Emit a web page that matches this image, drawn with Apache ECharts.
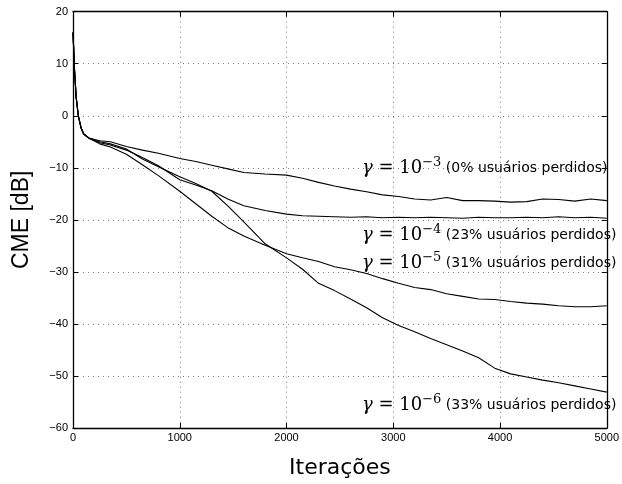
<!DOCTYPE html>
<html>
<head>
<meta charset="utf-8">
<script src="https://cdn.jsdelivr.net/npm/echarts@6/dist/echarts.min.js"></script>
<style>
  html, body { margin: 0; padding: 0; background: #fff; }
  #chart { width: 622px; height: 484px; }
</style>
</head>
<body>
<div id="chart"></div>
<script>
// iterações (eixo x) compartilhadas pelas 4 curvas
var iters = [0, 15, 30, 50, 75, 100, 150, 250, 350, 500, 650, 800, 1000, 1150, 1300, 1450, 1600, 1800, 2000,
  2150, 2300, 2450, 2600, 2750, 2900, 3050, 3200, 3350, 3500, 3650, 3800, 3950, 4100, 4250, 4400, 4550, 4700, 4850, 5000];

// CME em dB
var cmeG3 = [16, 8.5, 3.5, 0, -2.3, -3.5, -4.3, -4.8, -5.0, -5.9, -6.6, -7.2, -8.2, -8.8, -9.5, -10.2, -10.9, -11.2, -11.4,
  -12.0, -12.8, -13.5, -14.1, -14.6, -15.2, -15.5, -16.0, -16.2, -15.7, -16.3, -16.3, -16.4, -16.6, -16.5, -16.0, -16.1, -16.4, -16.0, -16.3];
var cmeG4 = [16, 8.5, 3.5, 0, -2.3, -3.5, -4.3, -5.2, -5.6, -6.6, -8.0, -9.6, -12.3, -13.3, -14.4, -16.0, -17.3, -18.2, -18.9,
  -19.2, -19.3, -19.4, -19.5, -19.4, -19.6, -19.5, -19.6, -19.5, -19.6, -19.7, -19.5, -19.6, -19.6, -19.5, -19.6, -19.4, -19.6, -19.5, -19.7];
var cmeG5 = [16, 8.5, 3.5, 0, -2.3, -3.5, -4.3, -5.4, -6.0, -7.4, -9.4, -11.5, -14.5, -16.9, -19.3, -21.5, -23.1, -24.9, -26.5,
  -27.3, -28.0, -29.0, -29.6, -30.3, -31.3, -32.2, -33.0, -33.4, -34.2, -34.7, -35.2, -35.3, -35.7, -36.0, -36.2, -36.5, -36.7, -36.7, -36.5];
var cmeG6 = [16, 8.5, 3.5, 0, -2.3, -3.5, -4.3, -5.0, -5.4, -6.4, -8.3, -9.8, -11.7, -13.0, -14.5, -17.3, -20.4, -24.6, -27.3,
  -29.5, -32.2, -33.6, -35.2, -36.9, -38.8, -40.3, -41.5, -42.8, -44.0, -45.2, -46.5, -48.5, -49.6, -50.2, -50.8, -51.3, -51.9, -52.5, -53.1];

var expoentes = ['−3', '−4', '−5', '−6'];
var perdidos = ['(0% usuários perdidos)', '(23% usuários perdidos)', '(31% usuários perdidos)', '(33% usuários perdidos)'];

function pares(ys) {
  return iters.map(function (x, i) { return [x, ys[i]]; });
}

var chart = echarts.init(document.getElementById('chart'));

var tickFont = { fontFamily: 'Liberation Sans', fontSize: 11, color: '#000' };
var gridLine = { show: true, lineStyle: { color: '#777', type: [1, 4], width: 1 } };

var labelPos = [[362, 168], [362, 235], [362, 263], [362, 405]];
var labels = labelPos.map(function (p, i) {
  return {
    type: 'text',
    x: p[0],
    y: p[1],
    z: 100,
    style: {
      text: '{gi|γ}{g| = 10}{s|' + expoentes[i] + '}{t| ' + perdidos[i] + '}',
      verticalAlign: 'middle',
      rich: {
        gi: { fontFamily: 'DejaVu Serif', fontStyle: 'italic', fontSize: 18, lineHeight: 24, fill: '#000' },
        g: { fontFamily: 'DejaVu Serif', fontSize: 18, lineHeight: 24, fill: '#000' },
        s: { fontFamily: 'DejaVu Serif', fontSize: 13, verticalAlign: 'top', lineHeight: 13, fill: '#000' },
        t: { fontFamily: 'DejaVu Sans', fontSize: 14, lineHeight: 24, fill: '#000' }
      }
    }
  };
});

var option = {
  animation: false,
  backgroundColor: '#fff',
  grid: { left: 73, right: 14.5, top: 11.7, bottom: 52, show: false },
  xAxis: [{
    type: 'value',
    min: 0, max: 5000, interval: 1000,
    name: 'Iterações',
    nameLocation: 'middle',
    nameGap: 29,
    nameTextStyle: { fontFamily: 'DejaVu Sans', fontSize: 22, color: '#000' },
    axisLine: { show: true, onZero: false, lineStyle: { color: '#000', width: 1.3 } },
    axisTick: { show: true, inside: true, length: 5, lineStyle: { color: '#000' } },
    axisLabel: Object.assign({ margin: 4, formatter: function (v) { return String(v); } }, tickFont),
    splitLine: gridLine
  }, {
    type: 'value', position: 'top',
    min: 0, max: 5000, interval: 1000,
    axisLine: { show: true, onZero: false, lineStyle: { color: '#000', width: 1.3 } },
    axisTick: { show: true, inside: true, length: 5, lineStyle: { color: '#000' } },
    axisLabel: { show: false },
    splitLine: { show: false }
  }],
  yAxis: [{
    type: 'value',
    min: -60, max: 20, interval: 10,
    name: 'CME [dB]',
    nameLocation: 'middle',
    nameGap: 40,
    nameTextStyle: { fontFamily: 'Liberation Sans', fontSize: 23, color: '#000' },
    axisLine: { show: true, onZero: false, lineStyle: { color: '#000', width: 1.3 } },
    axisTick: { show: true, inside: true, length: 5, lineStyle: { color: '#000' } },
    axisLabel: Object.assign({
      margin: 5,
      formatter: function (v) { return String(v).replace('-', '−'); }
    }, tickFont),
    splitLine: gridLine
  }, {
    type: 'value', position: 'right',
    min: -60, max: 20, interval: 10,
    axisLine: { show: true, onZero: false, lineStyle: { color: '#000', width: 1.3 } },
    axisTick: { show: true, inside: true, length: 5, lineStyle: { color: '#000' } },
    axisLabel: { show: false },
    splitLine: { show: false }
  }],
  series: [cmeG3, cmeG4, cmeG5, cmeG6].map(function (ys) {
    return {
      type: 'line',
      data: pares(ys),
      showSymbol: false,
      lineStyle: { color: '#000', width: 1.1 },
      z: 3
    };
  }),
  graphic: labels
};

chart.setOption(option);
</script>
</body>
</html>
